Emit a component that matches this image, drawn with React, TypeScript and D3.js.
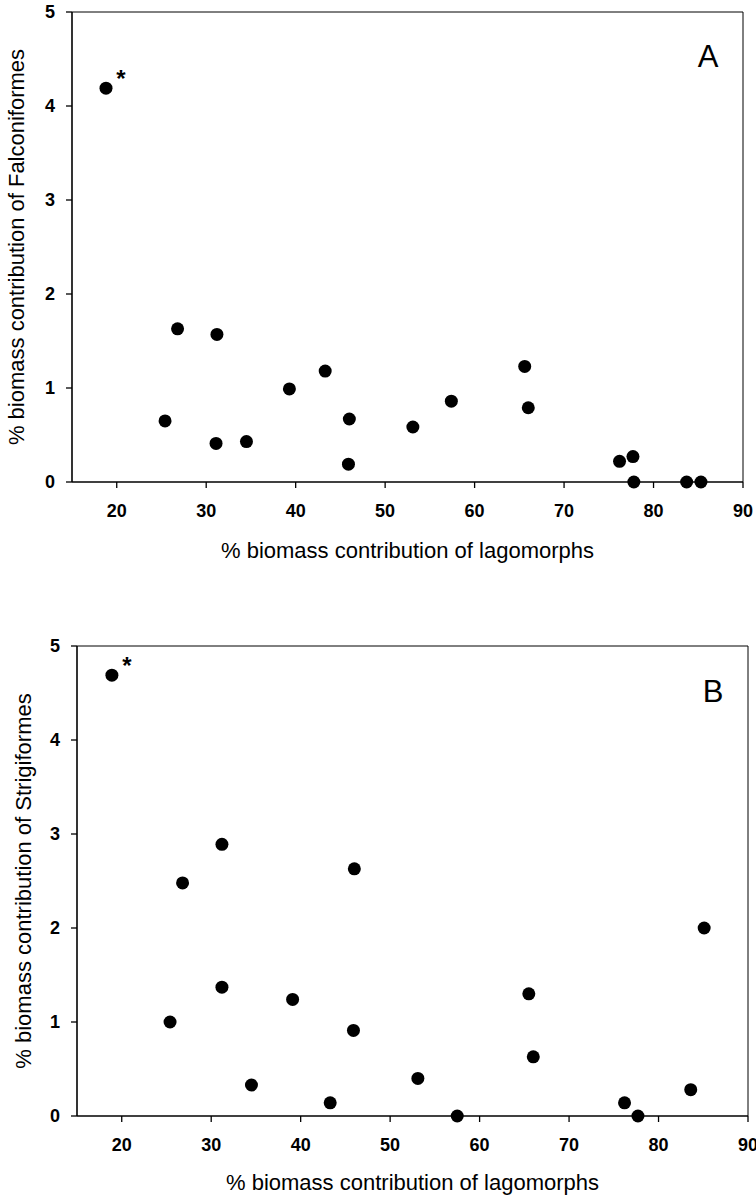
import React from 'react';
import { scaleLinear, range } from 'd3';

// panel A: falconiformes vs lagomorphs
const falcLago = [18.8, 25.4, 26.8, 31.2, 31.1, 34.5, 39.3, 43.3, 45.9, 46.0, 53.1, 57.4, 65.6, 66.0, 76.2, 77.7, 77.8, 83.7, 85.3];
const falcBiomass = [4.19, 0.65, 1.63, 1.57, 0.41, 0.43, 0.99, 1.18, 0.19, 0.67, 0.585, 0.86, 1.23, 0.79, 0.22, 0.27, 0, 0, 0];

// panel B: strigiformes vs lagomorphs
const strigLago = [18.9, 25.4, 26.8, 31.2, 31.2, 34.5, 39.1, 43.3, 46.0, 45.9, 53.1, 57.5, 65.5, 66.0, 76.2, 77.7, 83.6, 85.1];
const strigBiomass = [4.69, 1.0, 2.48, 2.89, 1.37, 0.33, 1.24, 0.14, 2.63, 0.91, 0.40, 0, 1.30, 0.63, 0.14, 0, 0.28, 2.0];

const xTicks = [20, 30, 40, 50, 60, 70, 80, 90];
const yTicks = [0, 1, 2, 3, 4, 5];
const starIndex = 0; // the outlier marked with *

const font = '"Liberation Sans", Arial, sans-serif';

const Panel = ({ xs, ys, letter, yTitle, left, right, top, bottom, yTitleX, xTitleY }) => {
  const x = scaleLinear().domain([15, 90]).range([left, right]);
  const y = scaleLinear().domain([0, 5]).range([bottom, top]);
  const midX = (left + right) / 2;
  const midY = (top + bottom) / 2;

  return (
    <g fontFamily={font}>
      {/* frame */}
      <line x1={left} x2={right} y1={top} y2={top} stroke="#000" strokeWidth={1} />
      <line x1={right} x2={right} y1={top} y2={bottom} stroke="#000" strokeWidth={1} />
      <line x1={left} x2={left} y1={top} y2={bottom} stroke="#000" strokeWidth={1.6} />
      <line x1={left} x2={right} y1={bottom} y2={bottom} stroke="#000" strokeWidth={1.6} />

      {yTicks.map(t => (
        <g key={'y' + t}>
          <line x1={left - 6} x2={left} y1={y(t)} y2={y(t)} stroke="#000" strokeWidth={1.3} />
          <text x={left - 17} y={y(t)} dy="0.36em" textAnchor="end" fontSize={18} fontWeight="bold">{t}</text>
        </g>
      ))}
      {xTicks.map(t => (
        <g key={'x' + t}>
          <line x1={x(t)} x2={x(t)} y1={bottom} y2={bottom + 6} stroke="#000" strokeWidth={1.3} />
          <text x={x(t)} y={bottom + 35} textAnchor="middle" fontSize={18} fontWeight="bold">{t}</text>
        </g>
      ))}

      {range(xs.length).map(i => (
        <circle key={i} cx={x(xs[i])} cy={y(ys[i])} r={6.5} fill="#000" />
      ))}
      <text x={x(xs[starIndex]) + 15} y={y(ys[starIndex]) - 1} textAnchor="middle" fontSize={24} fontWeight="bold">*</text>

      <text x={right - 35} y={top + (letter === 'A' ? 55 : 56)} textAnchor="middle" fontSize={31}>{letter}</text>

      <text x={midX} y={xTitleY} textAnchor="middle" fontSize={22}>% biomass contribution of lagomorphs</text>
      <text transform={`translate(${yTitleX},${midY}) rotate(-90)`} textAnchor="middle" fontSize={22}>{yTitle}</text>
    </g>
  );
};

export default function App() {
  return (
    <svg width={756} height={1199} style={{ position: 'absolute', left: 0, top: 0, background: '#fff' }}>
      <rect width={756} height={1199} fill="#fff" />
      <Panel xs={falcLago} ys={falcBiomass} letter="A" yTitle="% biomass contribution of Falconiformes"
        left={72} right={743} top={12} bottom={482} yTitleX={24} xTitleY={558} />
      <Panel xs={strigLago} ys={strigBiomass} letter="B" yTitle="% biomass contribution of Strigiformes"
        left={77} right={748} top={646} bottom={1116} yTitleX={31} xTitleY={1190} />
    </svg>
  );
}
